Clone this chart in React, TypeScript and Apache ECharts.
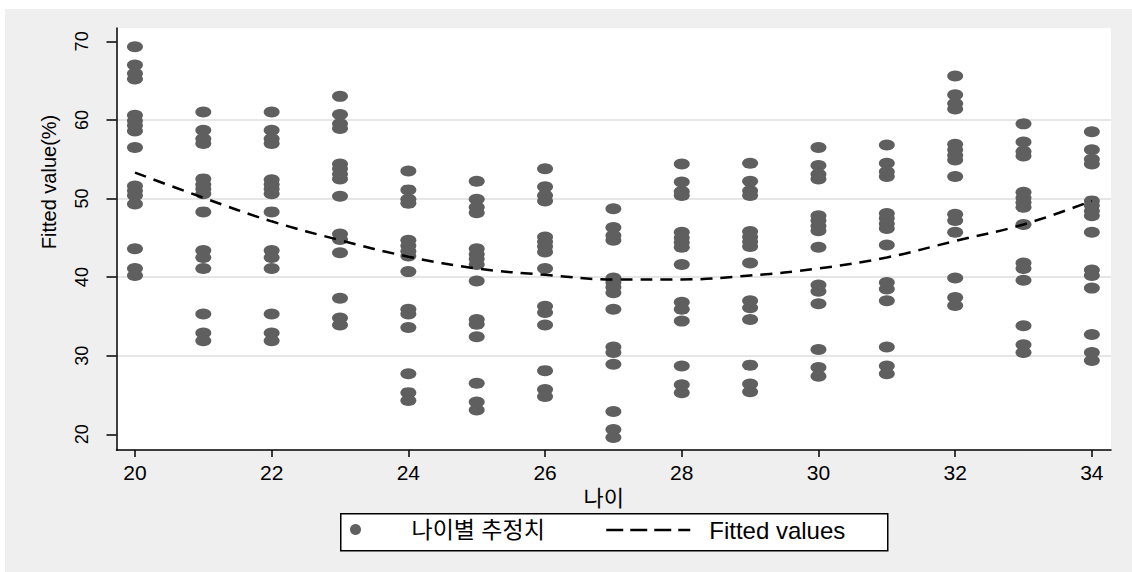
import React, { useEffect, useRef } from "react";
import * as echarts from "echarts";

// Ages (x values)
const ages = [20, 21, 22, 23, 24, 25, 26, 27, 28, 29, 30, 31, 32, 33, 34];

// Estimated values by age
const est20 = [69.3, 67.0, 65.9, 65.2, 60.6, 59.9, 59.3, 58.6, 56.5, 51.6, 51.0, 50.4, 49.3, 43.6, 41.1, 40.2];
const est21 = [61.0, 58.7, 57.6, 57.0, 52.5, 51.8, 51.2, 50.6, 48.3, 43.4, 42.5, 41.1, 35.3, 32.9, 31.9];
const est22 = [61.0, 58.7, 57.6, 57.0, 52.4, 51.8, 51.2, 50.6, 48.3, 43.4, 42.5, 41.1, 35.3, 32.9, 31.9];
const est23 = [63.0, 60.7, 59.5, 58.9, 54.4, 53.8, 53.1, 52.5, 50.3, 45.5, 44.8, 43.1, 37.3, 34.8, 33.9];
const est24 = [53.5, 51.1, 49.9, 49.4, 44.7, 44.0, 43.3, 42.7, 40.7, 35.9, 35.3, 33.6, 27.7, 25.3, 24.3];
const est25 = [52.2, 49.9, 48.9, 48.2, 43.6, 42.9, 42.3, 41.6, 39.5, 34.6, 34.0, 32.4, 26.5, 24.1, 23.1];
const est26 = [53.8, 51.5, 50.4, 49.7, 45.1, 44.5, 43.9, 43.2, 41.1, 36.3, 35.5, 33.9, 28.1, 25.7, 24.8];
const est27 = [48.7, 46.3, 45.3, 44.7, 39.9, 39.3, 38.7, 38.0, 35.9, 31.1, 30.4, 28.9, 22.9, 20.6, 19.6];
const est28 = [54.4, 52.1, 50.9, 50.4, 45.7, 45.0, 44.4, 43.8, 41.6, 36.8, 35.9, 34.4, 28.7, 26.3, 25.3];
const est29 = [54.5, 52.2, 51.0, 50.4, 45.8, 45.1, 44.5, 43.9, 41.8, 37.0, 36.1, 34.6, 28.8, 26.4, 25.4];
const est30 = [56.5, 54.2, 53.1, 52.5, 47.8, 47.2, 46.5, 45.9, 43.8, 39.0, 38.2, 36.6, 30.8, 28.5, 27.4];
const est31 = [56.8, 54.5, 53.4, 52.8, 48.1, 47.5, 46.8, 46.2, 44.1, 39.3, 38.5, 37.0, 31.1, 28.7, 27.7];
const est32 = [65.6, 63.2, 62.1, 61.4, 56.9, 56.2, 55.5, 54.9, 52.8, 48.0, 47.2, 45.7, 39.9, 37.4, 36.4];
const est33 = [59.5, 57.2, 56.0, 55.4, 50.8, 50.1, 49.5, 48.9, 46.7, 41.8, 41.1, 39.6, 33.8, 31.4, 30.4];
const est34 = [58.5, 56.2, 55.0, 54.4, 49.7, 49.1, 48.4, 47.8, 45.7, 40.9, 40.2, 38.6, 32.7, 30.4, 29.4];

// Fitted values (quadratic fit line) at each age
const fitted = [53.3, 50.1, 47.1, 44.7, 42.6, 41.1, 40.3, 39.7, 39.7, 40.2, 41.1, 42.5, 44.6, 46.7, 49.7];

// Tick labels
const xTicks = [20, 22, 24, 26, 28, 30, 32, 34];
const yTicks = [20, 30, 40, 50, 60, 70];

const scatterName = "나이별 추정치";
const lineName = "Fitted values";
const xTitle = "나이";
const yTitle = "Fitted value(%)";

const FONT = "'Liberation Sans', Arial, 'Noto Sans CJK KR', sans-serif";

export default function App() {
  const ref = useRef<HTMLDivElement>(null);

  useEffect(() => {
    if (!ref.current) return;
    const chart = echarts.init(ref.current, undefined, { renderer: "svg" });

    const groups = [est20, est21, est22, est23, est24, est25, est26, est27, est28, est29, est30, est31, est32, est33, est34];
    const scatterData: number[][] = [];
    groups.forEach((vals, i) => {
      vals.forEach((v) => scatterData.push([ages[i], v]));
    });
    const lineData = ages.map((a, i) => [a, fitted[i]]);

    chart.setOption({
      animation: false,
      backgroundColor: "#efefef",
      textStyle: { fontFamily: FONT },
      grid: {
        left: 111.5,
        right: 21,
        top: 19,
        bottom: 122,
        show: true,
        backgroundColor: "#ffffff",
        borderWidth: 0,
      },
      graphic: [
        {
          type: "rect",
          left: 335,
          top: 504,
          z: 1,
          shape: { width: 547, height: 37 },
          style: { fill: "#ffffff", stroke: "#000000", lineWidth: 1.5 },
        },
      ],
      legend: [
        {
          data: [{ name: scatterName, icon: "circle" }],
          left: 345,
          top: 509,
          padding: 0,
          itemWidth: 16,
          itemHeight: 11,
          symbolKeepAspect: false,
          formatter: (name: string) => `{g|}${name}`,
          textStyle: {
            fontFamily: FONT,
            fontSize: 23,
            color: "#000",
            rich: { g: { width: 43 } },
          },
          z: 5,
        },
        {
          data: [{ name: lineName }],
          left: 600,
          top: 509,
          padding: 0,
          itemWidth: 84,
          itemHeight: 14,
          itemStyle: { opacity: 0 },
          lineStyle: { color: "#000", width: 2.5, type: [17, 7] },
          formatter: (name: string) => `{g|}${name}`,
          textStyle: {
            fontFamily: FONT,
            fontSize: 24,
            color: "#000",
            rich: { g: { width: 14 } },
          },
          z: 5,
        },
      ],
      xAxis: {
        type: "value",
        min: 19.73,
        max: 34.28,
        name: xTitle,
        nameLocation: "middle",
        nameGap: 28,
        nameTextStyle: { fontFamily: FONT, fontSize: 22, color: "#000", padding: [0, 20, 0, 0] },
        axisLine: { show: true, onZero: false, lineStyle: { color: "#000", width: 1.5 } },
        axisTick: { show: true, length: 7, customValues: xTicks, lineStyle: { color: "#000", width: 1.5 } },
        axisLabel: { customValues: xTicks, fontFamily: FONT, fontSize: 21, color: "#000", margin: 12 },
        splitLine: { show: false },
      },
      yAxis: {
        type: "value",
        min: 18,
        max: 71.7,
        name: yTitle,
        nameLocation: "middle",
        nameRotate: 90,
        nameGap: 58,
        nameTextStyle: { fontFamily: FONT, fontSize: 20, color: "#000", padding: [0, 0, 0, 114] },
        axisLine: { show: true, onZero: false, lineStyle: { color: "#000", width: 1.5 } },
        axisTick: { show: true, length: 10, customValues: yTicks, lineStyle: { color: "#000", width: 1.5 } },
        axisLabel: { customValues: yTicks, rotate: 90, fontFamily: FONT, fontSize: 18, color: "#000", margin: 26 },
        splitLine: {
          show: true,
          showMinLine: false,
          showMaxLine: false,
          lineStyle: { color: "#e6e6e6", width: 2 },
        },
      },
      series: [
        {
          name: scatterName,
          type: "scatter",
          data: scatterData,
          symbol: "circle",
          symbolSize: [16, 11],
          itemStyle: { color: "#5f5f5f", opacity: 1 },
          z: 2,
        },
        {
          name: lineName,
          type: "line",
          data: lineData,
          symbol: "none",
          smooth: 0.4,
          lineStyle: { color: "#000", width: 2.5, type: [12, 8] },
          itemStyle: { color: "#000" },
          z: 3,
        },
      ],
    });

    return () => chart.dispose();
  }, []);

  return (
    <div
      ref={ref}
      style={{ position: "fixed", left: 5, top: 9, width: 1127, height: 563 }}
    />
  );
}
